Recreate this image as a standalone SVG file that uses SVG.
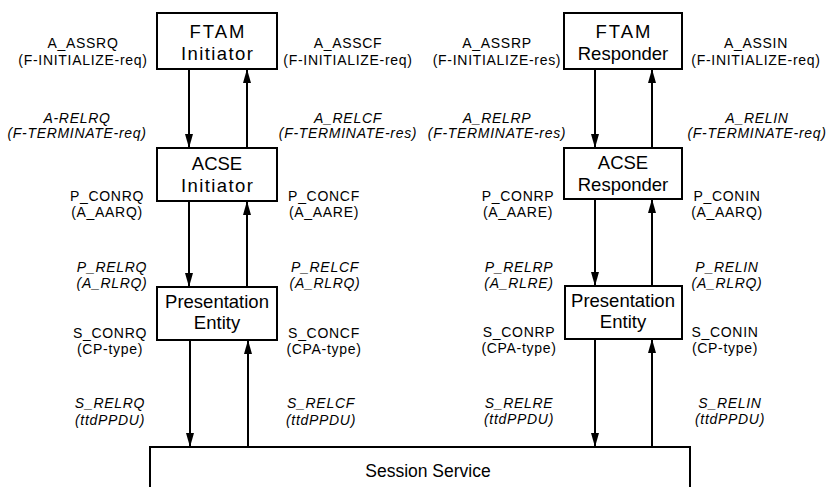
<svg xmlns="http://www.w3.org/2000/svg" width="830" height="487" viewBox="0 0 830 487">
<style>
.box{fill:#fff;stroke:#000;stroke-width:2}
.bt{font-family:"Liberation Sans",Arial,sans-serif;font-size:18.5px;text-anchor:middle;fill:#000}
.lb{font-family:"Liberation Sans",Arial,sans-serif;font-size:14px;text-anchor:middle;fill:#000;letter-spacing:0.7px}
.it{font-style:italic}
.cn{stroke:#000;stroke-width:2;fill:none;marker-end:url(#ah)}
</style>
<defs>
<marker id="ah" markerUnits="userSpaceOnUse" markerWidth="14" markerHeight="8" refX="14" refY="4" orient="auto" viewBox="0 0 14 8">
<path d="M0,0 L14,4 L0,8 z" fill="#000"/>
</marker>
</defs>
<rect width="830" height="487" fill="#fff"/>
<g id="connectors">
<line class="cn" x1="189" y1="69" x2="189" y2="148"/>
<line class="cn" x1="247" y1="148" x2="247" y2="69"/>
<line class="cn" x1="189" y1="201" x2="189" y2="287"/>
<line class="cn" x1="247" y1="287" x2="247" y2="201"/>
<line class="cn" x1="190" y1="340" x2="190" y2="447"/>
<line class="cn" x1="248" y1="447" x2="248" y2="340"/>
<line class="cn" x1="595" y1="69" x2="595" y2="148"/>
<line class="cn" x1="652" y1="148" x2="652" y2="69"/>
<line class="cn" x1="595" y1="199" x2="595" y2="286"/>
<line class="cn" x1="652" y1="286" x2="652" y2="199"/>
<line class="cn" x1="595" y1="339" x2="595" y2="447"/>
<line class="cn" x1="652" y1="447" x2="652" y2="339"/>
</g>
<g id="ftam-initiator">
<rect class="box" x="157" y="13" width="120" height="56"/>
<text class="bt" x="217" y="38" textLength="55" lengthAdjust="spacing">FTAM</text>
<text class="bt" x="217" y="60" textLength="72" lengthAdjust="spacing">Initiator</text>
</g>
<g id="acse-initiator">
<rect class="box" x="157" y="148" width="120" height="53"/>
<text class="bt" x="217" y="170">ACSE</text>
<text class="bt" x="217" y="192" textLength="72" lengthAdjust="spacing">Initiator</text>
</g>
<g id="presentation-initiator">
<rect class="box" x="157" y="287" width="120" height="53"/>
<text class="bt" x="217" y="308">Presentation</text>
<text class="bt" x="217" y="329">Entity</text>
</g>
<g id="ftam-responder">
<rect class="box" x="564" y="13" width="118" height="56"/>
<text class="bt" x="623" y="38" textLength="55" lengthAdjust="spacing">FTAM</text>
<text class="bt" x="623" y="60">Responder</text>
</g>
<g id="acse-responder">
<rect class="box" x="564" y="148" width="118" height="51"/>
<text class="bt" x="623" y="169">ACSE</text>
<text class="bt" x="623" y="191">Responder</text>
</g>
<g id="presentation-responder">
<rect class="box" x="565" y="286" width="117" height="53"/>
<text class="bt" x="623" y="307">Presentation</text>
<text class="bt" x="623" y="328">Entity</text>
</g>
<g id="session-service">
<rect class="box" x="150" y="447" width="540" height="60"/>
<text class="bt" x="428" y="477" style="font-size:17.5px">Session Service</text>
</g>
<g id="labels">
<text class="lb" x="83" y="48">A_ASSRQ</text><text class="lb" x="83" y="65">(F-INITIALIZE-req)</text>
<text class="lb it" x="77" y="123">A-RELRQ</text><text class="lb it" x="77" y="138">(F-TERMINATE-req)</text>
<text class="lb" x="107" y="201">P_CONRQ</text><text class="lb" x="107" y="217">(A_AARQ)</text>
<text class="lb it" x="112" y="272">P_RELRQ</text><text class="lb it" x="112" y="288">(A_RLRQ)</text>
<text class="lb" x="110" y="338">S_CONRQ</text><text class="lb" x="110" y="354">(CP-type)</text>
<text class="lb it" x="110" y="408">S_RELRQ</text><text class="lb it" x="110" y="425">(ttdPPDU)</text>

<text class="lb" x="348" y="48">A_ASSCF</text><text class="lb" x="348" y="65">(F-INITIALIZE-req)</text>
<text class="lb it" x="348" y="123">A_RELCF</text><text class="lb it" x="348" y="138">(F-TERMINATE-res)</text>
<text class="lb" x="324" y="201">P_CONCF</text><text class="lb" x="324" y="217">(A_AARE)</text>
<text class="lb it" x="325" y="272">P_RELCF</text><text class="lb it" x="325" y="288">(A_RLRQ)</text>
<text class="lb" x="324" y="338">S_CONCF</text><text class="lb" x="324" y="354">(CPA-type)</text>
<text class="lb it" x="321" y="408">S_RELCF</text><text class="lb it" x="321" y="425">(ttdPPDU)</text>

<text class="lb" x="497" y="48">A_ASSRP</text><text class="lb" x="497" y="65">(F-INITIALIZE-res)</text>
<text class="lb it" x="497" y="123">A_RELRP</text><text class="lb it" x="497" y="138">(F-TERMINATE-res)</text>
<text class="lb" x="518" y="201">P_CONRP</text><text class="lb" x="518" y="217">(A_AARE)</text>
<text class="lb it" x="519" y="272">P_RELRP</text><text class="lb it" x="519" y="288">(A_RLRE)</text>
<text class="lb" x="519" y="337">S_CONRP</text><text class="lb" x="519" y="353">(CPA-type)</text>
<text class="lb it" x="519" y="408">S_RELRE</text><text class="lb it" x="519" y="424">(ttdPPDU)</text>

<text class="lb" x="756" y="48">A_ASSIN</text><text class="lb" x="756" y="65">(F-INITIALIZE-req)</text>
<text class="lb it" x="757" y="123">A_RELIN</text><text class="lb it" x="757" y="138">(F-TERMINATE-req)</text>
<text class="lb" x="727" y="201">P_CONIN</text><text class="lb" x="727" y="217">(A_AARQ)</text>
<text class="lb it" x="727" y="272">P_RELIN</text><text class="lb it" x="727" y="288">(A_RLRQ)</text>
<text class="lb" x="725" y="337">S_CONIN</text><text class="lb" x="725" y="353">(CP-type)</text>
<text class="lb it" x="730" y="408">S_RELIN</text><text class="lb it" x="730" y="424">(ttdPPDU)</text>
</g>
</svg>
